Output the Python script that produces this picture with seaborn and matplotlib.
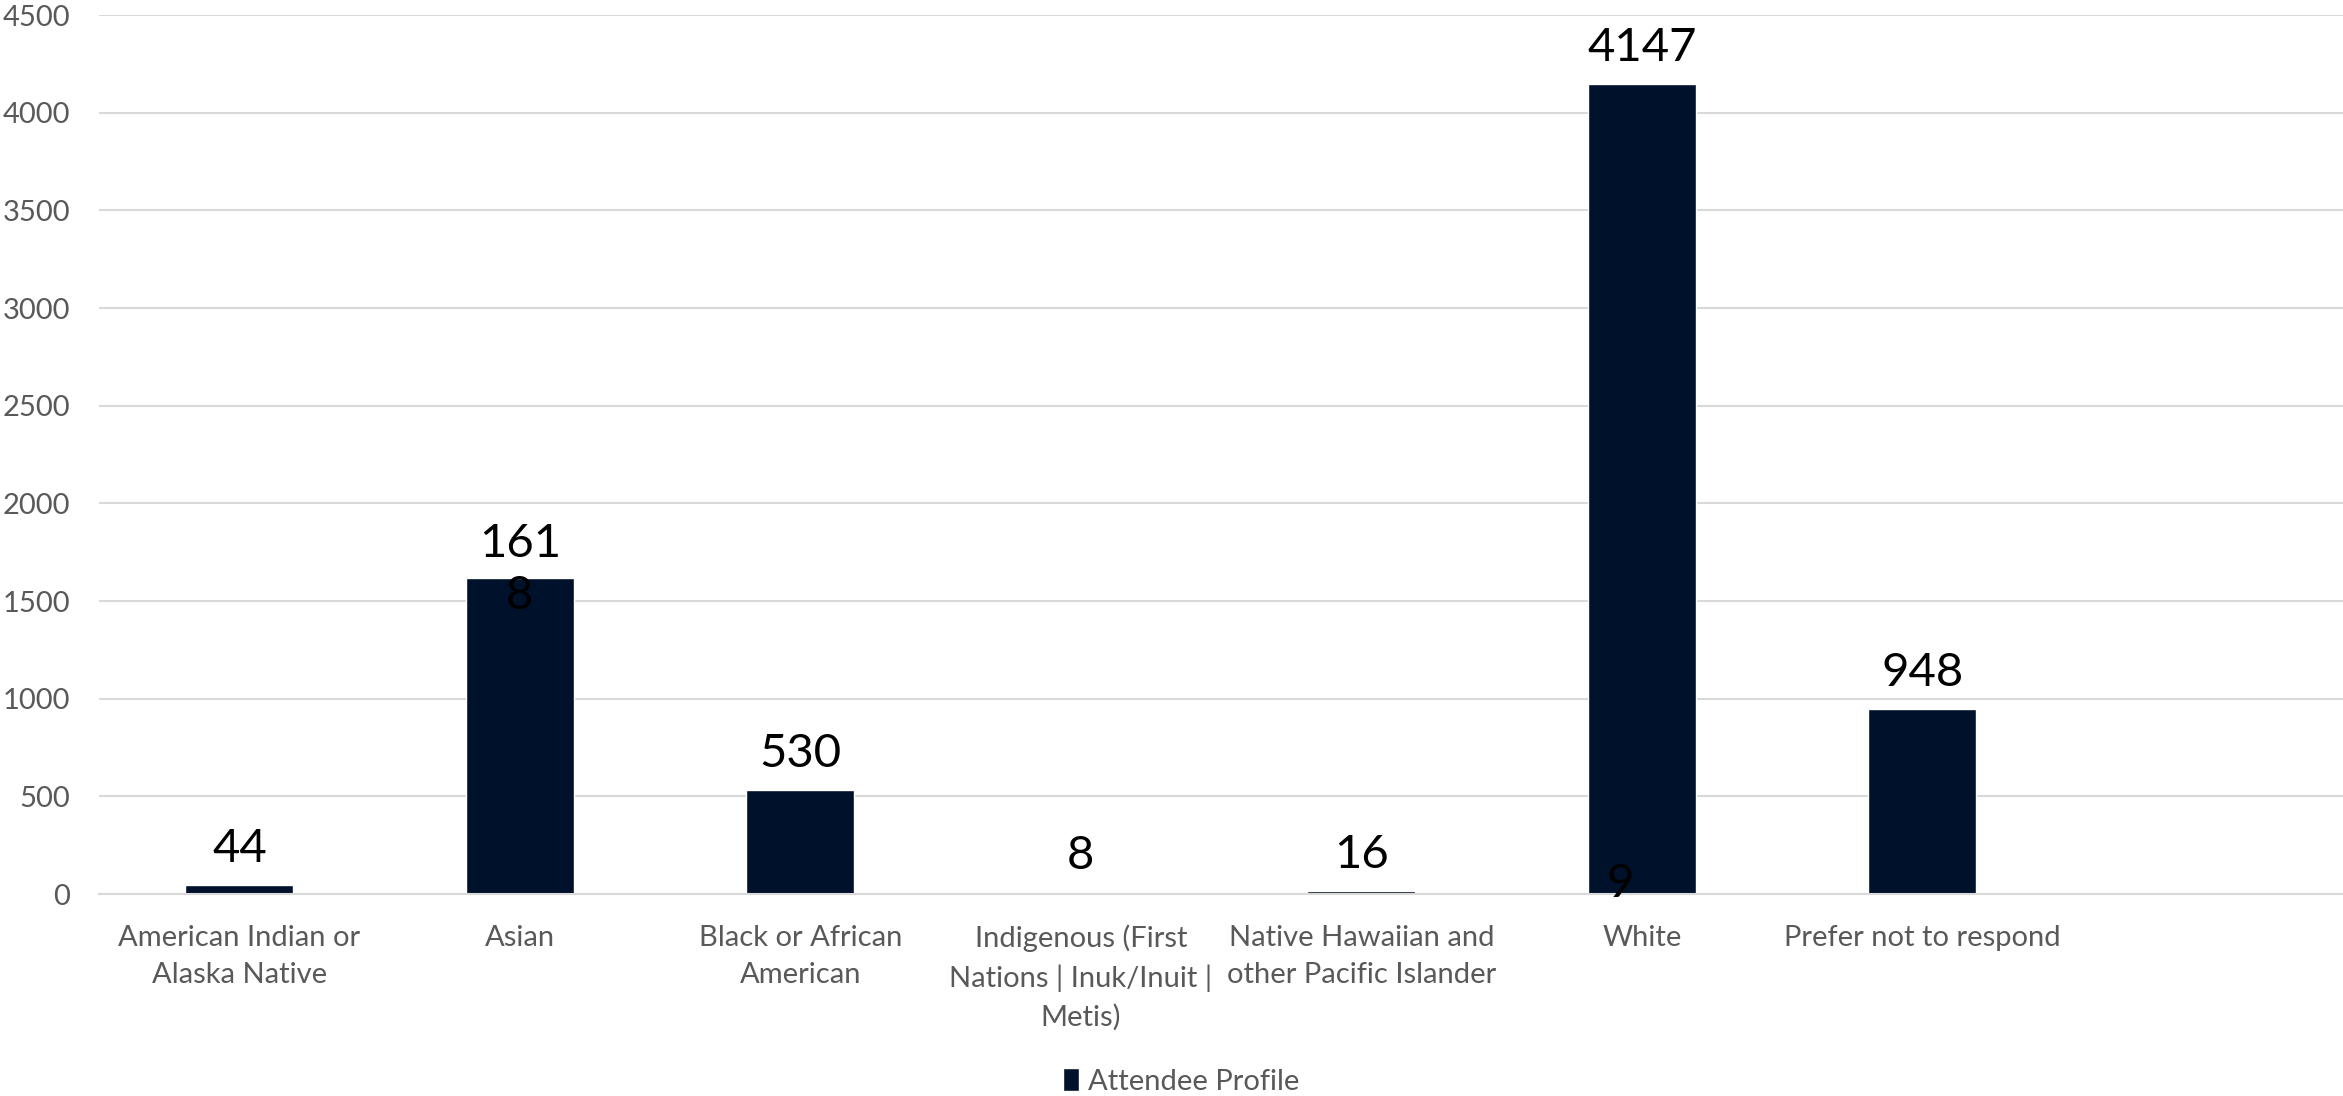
import matplotlib
matplotlib.use("Agg")
import matplotlib.pyplot as plt
import seaborn as sns
import pandas as pd

categories = [
    "American Indian or\nAlaska Native",
    "Asian",
    "Black or African\nAmerican",
    "Indigenous (First\nNations | Inuk/Inuit |\nMetis)",
    "Native Hawaiian and\nother Pacific Islander",
    "White",
    "Prefer not to respond",
]
values = [44, 1618, 530, 8, 16, 4147, 948]
value_labels = ["44", "161\n8", "530", "8", "16", "4147", "948"]
series_name = "Attendee Profile"
y_ticks = [0, 500, 1000, 1500, 2000, 2500, 3000, 3500, 4000, 4500]

sns.set_theme(style="white")
plt.rcParams["font.family"] = ["Lato", "DejaVu Sans"]

df = pd.DataFrame({"cat": categories, "val": values, "series": series_name})

fig = plt.figure(figsize=(23.43, 10.96), dpi=100)
ax = fig.add_axes([0.0423, 0.1843, 0.9577, 0.802])

bar_color = "#00112B"
sns.barplot(data=df, x="cat", y="val", hue="series", palette=[bar_color],
            order=categories, width=0.385, ax=ax, legend=True, saturation=1)

ax.set_xlim(-0.5, 7.5)
ax.set_ylim(0, 4500)
ax.set_yticks(y_ticks)
ax.set_yticklabels([str(t) for t in y_ticks])
ax.grid(axis="y", color="#D9D9D9", linewidth=1.5)
ax.set_axisbelow(True)
for s in ["top", "right", "left"]:
    ax.spines[s].set_visible(False)
ax.spines["bottom"].set_color("#D9D9D9")
ax.spines["bottom"].set_linewidth(1.5)
ax.set_xlabel("")
ax.set_ylabel("")
ax.tick_params(axis="both", length=0, labelsize=21, labelcolor="#595959")
ax.tick_params(axis="y", pad=21)
ax.tick_params(axis="x", pad=22)
for lbl in ax.get_xticklabels():
    lbl.set_linespacing(1.55)

# data labels
for i, (v, t) in enumerate(zip(values, value_labels)):
    if "\n" in t:
        ax.annotate(t, xy=(i, v), xytext=(0, 8), textcoords="offset pixels",
                    ha="center", va="center", fontsize=34, color="black",
                    linespacing=1.3)
    else:
        ax.annotate(t, xy=(i, v), xytext=(0, 36), textcoords="offset pixels",
                    ha="center", va="center", fontsize=34, color="black")
# stray label near White bar base
ax.annotate("9", xy=(5, 0), xytext=(-22, 10), textcoords="offset pixels",
            ha="center", va="center", fontsize=34, color="black")

sns.move_legend(ax, "lower center", bbox_to_anchor=((0.504 - 0.0423) / 0.9577, -0.258),
                frameon=False, fontsize=21, handlelength=0.55, handleheight=0.8,
                handletextpad=0.3, title=None)
for t in ax.get_legend().get_texts():
    t.set_color("#595959")

fig.savefig("out.png", dpi=100)
